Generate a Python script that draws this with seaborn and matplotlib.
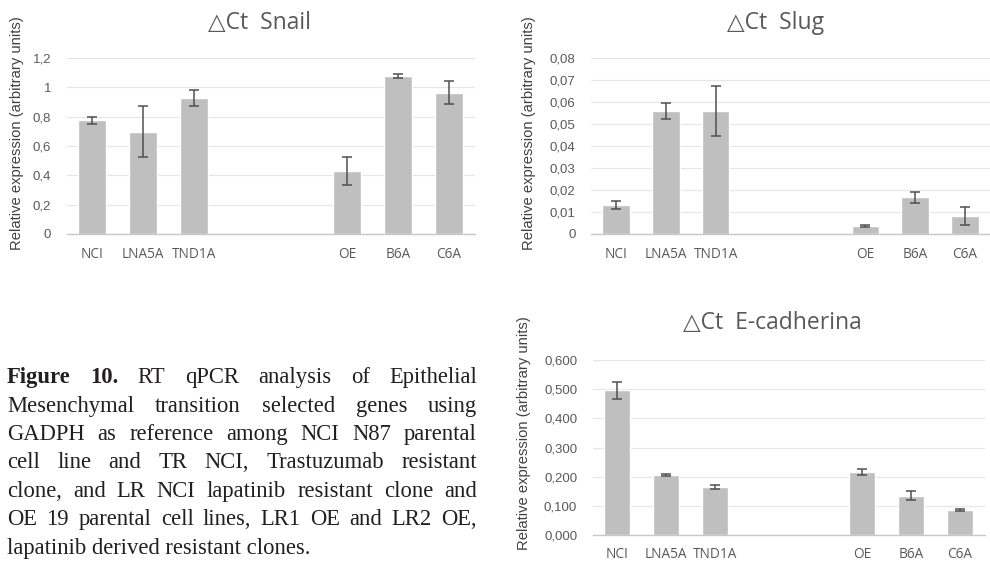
import matplotlib
matplotlib.use("Agg")
import matplotlib.pyplot as plt
import seaborn as sns
import pandas as pd
import numpy as np

# ---------------- data ----------------
categories = ["NCI", "LNA5A", "TND1A", " ", "  ", "OE", "B6A", "C6A"]
groups = ["NCI", "LNA5A", "TND1A", "OE", "B6A", "C6A"]

snail_values = [0.775, 0.697, 0.927, 0.430, 1.077, 0.963]
snail_errors = [0.026, 0.175, 0.055, 0.094, 0.016, 0.077]
snail_ticks = [0, 0.2, 0.4, 0.6, 0.8, 1.0, 1.2]
snail_ticklabels = ["0", "0,2", "0,4", "0,6", "0,8", "1", "1,2"]

slug_values = [0.0132, 0.0560, 0.0560, 0.0036, 0.0167, 0.0083]
slug_errors = [0.0019, 0.0037, 0.0115, 0.0004, 0.0026, 0.0041]
slug_ticks = [0, 0.01, 0.02, 0.03, 0.04, 0.05, 0.06, 0.07, 0.08]
slug_ticklabels = ["0", "0,01", "0,02", "0,03", "0,04", "0,05", "0,06", "0,07", "0,08"]

ecad_values = [0.497, 0.206, 0.166, 0.216, 0.135, 0.086]
ecad_errors = [0.029, 0.004, 0.007, 0.009, 0.015, 0.003]
ecad_ticks = [0, 0.1, 0.2, 0.3, 0.4, 0.5, 0.6]
ecad_ticklabels = ["0,000", "0,100", "0,200", "0,300", "0,400", "0,500", "0,600"]

titles = ["\u25b3Ct  Snail", "\u25b3Ct  Slug", "\u25b3Ct  E-cadherina"]
ylabel_text = "Relative expression (arbitrary units)"

caption_lines = [
    ["Figure", "10.", "RT", "qPCR", "analysis", "of", " Epithelial"],
    "Mesenchymal transition selected genes using".split(),
    "GADPH as reference among NCI N87 parental".split(),
    "cell line and TR NCI, Trastuzumab resistant".split(),
    "clone, and LR NCI lapatinib resistant clone and".split(),
    "OE 19 parental cell lines, LR1 OE and LR2 OE,".split(),
]
caption_last = "lapatinib derived resistant clones."

# ---------------- style ----------------
sns.set_theme(style="white")
plt.rcParams["font.family"] = ["Liberation Sans", "DejaVu Sans"]

W, H = 990, 562
fig = plt.figure(figsize=(W / 100, H / 100), dpi=100)

BAR = "#bfbfbf"
TXT = "#595959"
GRID = "#e6e6e6"

def px_axes(x0, x1, ytop, ybot):
    return fig.add_axes([x0 / W, 1 - ybot / H, (x1 - x0) / W, (ybot - ytop) / H])

panels = [
    dict(vals=snail_values, errs=snail_errors, ticks=snail_ticks, tl=snail_ticklabels,
         box=(66.5, 474.5, 58, 234), title=titles[0], tpos=(260, 23), ypos=(17.5, 133)),
    dict(vals=slug_values, errs=slug_errors, ticks=slug_ticks, tl=slug_ticklabels,
         box=(591, 990, 58, 234), title=titles[1], tpos=(776, 23), ypos=(529, 133)),
    dict(vals=ecad_values, errs=ecad_errors, ticks=ecad_ticks, tl=ecad_ticklabels,
         box=(592.5, 984.5, 360, 535), title=titles[2], tpos=(772, 323), ypos=(524, 433)),
]

for p in panels:
    ax = px_axes(*p["box"])
    df = pd.DataFrame({"cat": groups, "val": p["vals"]})
    sns.barplot(data=df, x="cat", y="val", order=categories, color=BAR,
                saturation=1, width=0.55, errorbar=None, ax=ax)
    xs = [categories.index(g) for g in groups]
    ax.errorbar(xs, p["vals"], yerr=p["errs"], fmt="none", ecolor="#505050",
                elinewidth=1.1, capsize=3.5, capthick=1.1, zorder=5)
    ax.set_xlim(-0.5, len(categories) - 0.5)
    ax.set_ylim(p["ticks"][0], p["ticks"][-1])
    ax.set_yticks(p["ticks"])
    ax.set_yticklabels(p["tl"], fontsize=9.5, color=TXT, family=["Liberation Sans"])
    ax.set_xticks(range(len(categories)))
    ax.set_xticklabels(categories, fontsize=9.8, color=TXT, family=["Open Sans", "DejaVu Sans"])
    ax.tick_params(axis="y", length=0, pad=11)
    ax.tick_params(axis="x", length=0, pad=9)
    ax.set_xlabel("")
    ax.set_ylabel("")
    ax.yaxis.grid(True, color=GRID, linewidth=0.9)
    ax.set_axisbelow(True)
    for s in ["top", "right", "left"]:
        ax.spines[s].set_visible(False)
    ax.spines["bottom"].set_color("#c8c8c8")
    ax.spines["bottom"].set_linewidth(1.0)
    ax.patch.set_alpha(0)
    fig.text(p["tpos"][0] / W, 1 - p["tpos"][1] / H, p["title"], ha="center", va="center",
             fontsize=16.5, color=TXT, family=["Open Sans", "DejaVu Sans"])
    fig.text(p["ypos"][0] / W, 1 - p["ypos"][1] / H, ylabel_text, rotation=90,
             ha="center", va="center", fontsize=10.6, color="#404040")

# ---------------- caption (justified) ----------------
CAP_FS = 16.3
CAP_COL = "#231f20"
left_px, right_px = 7, 477
baselines = [383, 412, 440, 468, 497, 525, 554]
renderer = fig.canvas.get_renderer()

for i, words in enumerate(caption_lines):
    items = []
    for j, w in enumerate(words):
        bold = (i == 0 and j < 2)
        t = fig.text(0, 0, w.strip(), fontsize=CAP_FS, color=CAP_COL,
                     family=["Liberation Serif"], fontweight="bold" if bold else "normal",
                     ha="left", va="baseline")
        wpx = t.get_window_extent(renderer=renderer).width
        items.append((t, wpx))
    total = sum(w for _, w in items)
    gap = (right_px - left_px - total) / (len(items) - 1)
    x = left_px
    for t, wpx in items:
        t.set_position((x / W, 1 - baselines[i] / H))
        x += wpx + gap

fig.text(left_px / W, 1 - baselines[-1] / H, caption_last, fontsize=CAP_FS, color=CAP_COL,
         family=["Liberation Serif"], ha="left", va="baseline")

fig.savefig("out.png", dpi=100)
